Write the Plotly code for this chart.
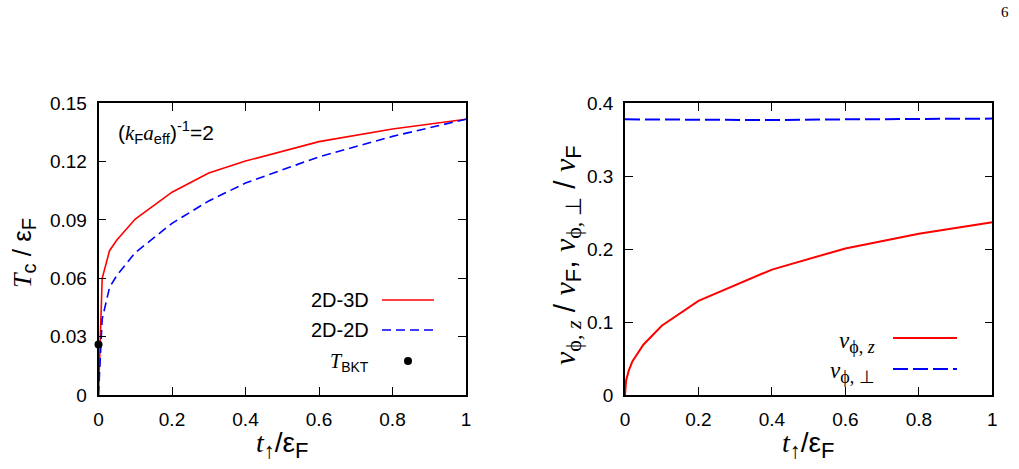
import plotly.graph_objects as go

# ---- data ----
t_left = [0, 0.01, 0.03, 0.05, 0.1, 0.2, 0.3, 0.4, 0.6, 0.8, 1.0]
tc_2d3d = [0, 0.060, 0.0742, 0.0797, 0.0905, 0.1043, 0.1142, 0.1203, 0.1303, 0.1368, 0.1418]
tc_2d2d = [0, 0.039, 0.0553, 0.0615, 0.0732, 0.0883, 0.0998, 0.1090, 0.1225, 0.1330, 0.1418]
t_bkt_x = [0]
t_bkt_y = [0.026]

t_right = [0, 0.003, 0.01, 0.02, 0.05, 0.1, 0.2, 0.4, 0.6, 0.8, 1.0]
v_z = [0, 0.020, 0.033, 0.046, 0.069, 0.095, 0.129, 0.172, 0.201, 0.221, 0.237]
t_perp = [0, 0.2, 0.4, 0.6, 0.8, 1.0]
v_perp = [0.378, 0.377, 0.377, 0.378, 0.379, 0.379]

x_ticks = [0, 0.2, 0.4, 0.6, 0.8, 1.0]
x_ticktext = ["0", "0.2", "0.4", "0.6", "0.8", "1"]
yl_ticks = [0, 0.03, 0.06, 0.09, 0.12, 0.15]
yl_ticktext = ["0", "0.03", "0.06", "0.09", "0.12", "0.15"]
yr_ticks = [0, 0.1, 0.2, 0.3, 0.4]
yr_ticktext = ["0", "0.1", "0.2", "0.3", "0.4"]

RED = "#ff0000"
BLUE = "#0000ff"
SANS = "Liberation Sans"
SERIF = "Liberation Serif"
W, H = 1019, 469
DASH_L = "9px,5px"
DASH_R = "15px,5px"

def px(x):
    return x / W

def py(y):
    return 1 - y / H

def it(s):
    return f'<span style="font-family:{SERIF};font-style:italic">{s}</span>'

def serif(s):
    return f'<span style="font-family:{SERIF}">{s}</span>'

fig = go.Figure()

fig.add_trace(go.Scatter(x=t_left, y=tc_2d3d, mode="lines", line=dict(color=RED, width=1.6),
                         xaxis="x", yaxis="y", showlegend=False))
fig.add_trace(go.Scatter(x=t_left, y=tc_2d2d, mode="lines", line=dict(color=BLUE, width=1.6, dash=DASH_L),
                         xaxis="x", yaxis="y", showlegend=False))
fig.add_trace(go.Scatter(x=t_bkt_x, y=t_bkt_y, mode="markers", marker=dict(color="black", size=8),
                         xaxis="x", yaxis="y", showlegend=False, cliponaxis=False))
fig.add_trace(go.Scatter(x=t_right, y=v_z, mode="lines", line=dict(color=RED, width=2),
                         xaxis="x2", yaxis="y2", showlegend=False))
fig.add_trace(go.Scatter(x=t_perp, y=v_perp, mode="lines", line=dict(color=BLUE, width=2, dash=DASH_R),
                         xaxis="x2", yaxis="y2", showlegend=False))

axis_common = dict(showline=True, linecolor="black", linewidth=1.5, mirror="ticks",
                   ticks="inside", ticklen=8, tickcolor="black", tickwidth=1,
                   showgrid=False, zeroline=False, automargin=False,
                   tickfont=dict(family=SANS, size=19, color="black"))

fig.update_layout(
    template="none",
    width=W, height=H,
    margin=dict(l=0, r=0, t=0, b=0, pad=0),
    paper_bgcolor="white", plot_bgcolor="white",
    xaxis=dict(domain=[px(98.5), px(466)], range=[0, 1], anchor="y",
               tickvals=x_ticks, ticktext=x_ticktext, ticklabelstandoff=6, **axis_common),
    yaxis=dict(domain=[py(395), py(103.3)], range=[0, 0.15], anchor="x",
               tickvals=yl_ticks, ticktext=yl_ticktext, ticklabelstandoff=6, **axis_common),
    xaxis2=dict(domain=[px(625), px(992.3)], range=[0, 1], anchor="y2",
                tickvals=x_ticks, ticktext=x_ticktext, ticklabelstandoff=6, **axis_common),
    yaxis2=dict(domain=[py(395), py(103.3)], range=[0, 0.4], anchor="x2",
                tickvals=yr_ticks, ticktext=yr_ticktext, ticklabelstandoff=6, **axis_common),
)

anns = []
def ann(x, y, text, size, xanchor="center", yanchor="middle", angle=0, family=SANS):
    anns.append(dict(x=px(x), y=py(y), xref="paper", yref="paper", text=text, showarrow=False,
                     xanchor=xanchor, yanchor=yanchor, textangle=angle,
                     font=dict(family=family, size=size, color="black")))

def sub(s, size):
    return f'<sub><span style="font-size:{size}px">{s}</span></sub>'

# page number
ann(1005, 12, "6", 15, family=SERIF)

# axis titles
ann(23, 253, it("T") + sub("c", 20) + " / ε" + sub("F", 20), 26, angle=-90)
xt = it("t") + sub("↑", 22) + "/ε" + sub("F", 22)
ann(282, 445, xt, 28)
ann(808, 445, xt, 28)
ann(567, 255, it("v") + sub(serif("ϕ, ") + it("z"), 22) + " / " + it("v") + sub("F", 22) + ", "
    + it("v") + sub(serif("ϕ, ⊥"), 22) + " / " + it("v") + sub("F", 22), 30, angle=-90)

# parameter annotation
ann(116, 133, "(" + it("k") + "<sub>F</sub>" + it("a") + "<sub>eff</sub>)<sup>-1</sup>=2", 21, xanchor="left")

# left legend
ann(371, 300, "2D-3D", 20, xanchor="right")
ann(371, 330, "2D-2D", 20, xanchor="right")
ann(371, 362, it("T") + "<sub>BKT</sub>", 20, xanchor="right")
# right legend
ann(877, 342, it("v") + sub(serif("ϕ, ") + it("z"), 18), 23, xanchor="right")
ann(877, 372, it("v") + sub(serif("ϕ, ⊥"), 18), 23, xanchor="right")
fig.update_layout(annotations=anns)

shapes = [
    dict(type="line", xref="paper", yref="paper", x0=px(382), x1=px(434), y0=py(300), y1=py(300),
         line=dict(color=RED, width=1.6)),
    dict(type="line", xref="paper", yref="paper", x0=px(382), x1=px(434), y0=py(330), y1=py(330),
         line=dict(color=BLUE, width=1.6, dash=DASH_L)),
    dict(type="circle", xref="paper", yref="paper", x0=px(404), x1=px(412), y0=py(365), y1=py(357),
         fillcolor="black", line=dict(color="black", width=0)),
    dict(type="line", xref="paper", yref="paper", x0=px(893), x1=px(957), y0=py(338), y1=py(338),
         line=dict(color=RED, width=2)),
    dict(type="line", xref="paper", yref="paper", x0=px(893), x1=px(957), y0=py(369), y1=py(369),
         line=dict(color=BLUE, width=2, dash=DASH_R)),
]
fig.update_layout(shapes=shapes)

fig.write_html("out.html", post_script="document.body.style.margin='0';document.body.style.overflow='hidden';")
